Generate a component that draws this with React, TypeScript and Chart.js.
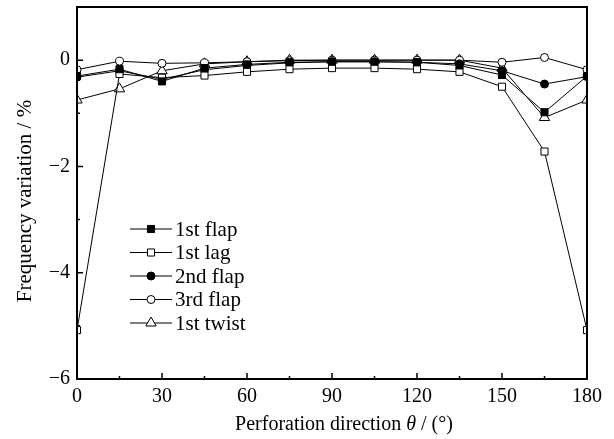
import React, { useEffect, useRef } from "react";
import { Chart, registerables } from "chart.js";

Chart.register(...registerables);

const angles = [0, 15, 30, 45, 60, 75, 90, 105, 120, 135, 150, 165, 180];
const flap1 = [-0.3, -0.17, -0.4, -0.15, -0.08, -0.04, -0.03, -0.03, -0.04, -0.1, -0.28, -0.98, -0.3];
const lag1 = [-5.08, -0.26, -0.33, -0.29, -0.22, -0.17, -0.15, -0.15, -0.17, -0.22, -0.5, -1.72, -5.08];
const flap2 = [-0.32, -0.2, -0.36, -0.18, -0.1, -0.05, -0.03, -0.03, -0.04, -0.07, -0.2, -0.45, -0.31];
const flap3 = [-0.18, -0.02, -0.06, -0.05, -0.03, -0.01, 0, 0, 0, 0, -0.04, 0.05, -0.18];
const twist1 = [-0.75, -0.54, -0.2, -0.07, -0.03, 0, 0, 0, 0, 0, -0.15, -1.08, -0.75];

const seriesNames = ["1st flap", "1st lag", "2nd flap", "3rd flap", "1st twist"];
const xTitle = ["Perforation direction ", "θ", " / (°)"];
const yTitle = "Frequency variation / %";

const FONT = '"Liberation Serif", "Times New Roman", serif';

const makeSet = (label: string, data: number[], style: string, filled: boolean, r: number) => ({
  label,
  data: angles.map((a, i) => ({ x: a, y: data[i] })),
  borderColor: "#000",
  borderWidth: 1,
  pointStyle: style,
  pointRadius: r,
  pointBorderWidth: 1,
  pointBackgroundColor: filled ? "#000" : "#fff",
  pointBorderColor: "#000",
  clip: 0,
  tension: 0,
});

function drawMarker(ctx: CanvasRenderingContext2D, style: string, r: number, x: number, y: number, fill: string) {
  ctx.save();
  ctx.fillStyle = fill;
  ctx.strokeStyle = "#000";
  ctx.lineWidth = 1;
  ctx.beginPath();
  if (style === "rect") {
    const s = Math.SQRT1_2 * r;
    ctx.rect(x - s, y - s, 2 * s, 2 * s);
  } else if (style === "triangle") {
    ctx.moveTo(x, y - r);
    ctx.lineTo(x + r * Math.sin(Math.PI / 3), y + r * 0.5);
    ctx.lineTo(x - r * Math.sin(Math.PI / 3), y + r * 0.5);
    ctx.closePath();
  } else {
    ctx.arc(x, y, r, 0, Math.PI * 2);
  }
  ctx.fill();
  ctx.stroke();
  ctx.restore();
}

const framePlugin = {
  id: "frame",
  afterDraw(chart: any) {
    const { ctx, chartArea: a, scales } = chart;
    const xs = scales.x;
    const ys = scales.y;
    ctx.save();
    ctx.strokeStyle = "#000";
    // inward ticks
    ctx.lineWidth = 1.5;
    ctx.beginPath();
    xs.ticks.forEach((t: any) => {
      const p = xs.getPixelForValue(t.value);
      const len = t.value % 30 === 0 ? 6 : 3;
      ctx.moveTo(p, a.bottom);
      ctx.lineTo(p, a.bottom - len);
    });
    ys.ticks.forEach((t: any) => {
      const p = ys.getPixelForValue(t.value);
      const len = t.value % 2 === 0 ? 6 : 3;
      ctx.moveTo(a.left, p);
      ctx.lineTo(a.left + len, p);
    });
    ctx.stroke();
    // box
    ctx.lineWidth = 2;
    ctx.strokeRect(a.left, a.top, a.right - a.left, a.bottom - a.top);

    // x title (mixed style)
    ctx.fillStyle = "#000";
    ctx.textBaseline = "middle";
    ctx.textAlign = "left";
    const normal = `20px ${FONT}`;
    const italic = `italic 20px ${FONT}`;
    const big = `21px ${FONT}`;
    ctx.font = normal;
    const w0 = ctx.measureText(xTitle[0]).width;
    const w2 = ctx.measureText(xTitle[2]).width;
    ctx.font = italic;
    const w1 = ctx.measureText(xTitle[1]).width;
    const total = w0 + w1 + w2;
    const cx = (a.left + a.right) / 2 + 12;
    let xx = cx - total / 2;
    const ty = 425;
    ctx.font = normal;
    ctx.fillText(xTitle[0], xx, ty);
    xx += w0;
    ctx.font = italic;
    ctx.fillText(xTitle[1], xx, ty);
    xx += w1;
    ctx.font = normal;
    ctx.fillText(xTitle[2], xx, ty);

    // y title
    ctx.save();
    ctx.translate(25, (a.top + a.bottom) / 2 + 8);
    ctx.rotate(-Math.PI / 2);
    ctx.textAlign = "center";
    ctx.font = big;
    ctx.fillText(yTitle, 0, 0);
    ctx.restore();

    // legend
    const lx0 = a.left + 53;
    const lx1 = a.left + 95;
    const ly0 = a.top + 222;
    const step = 23.5;
    chart.data.datasets.forEach((ds: any, i: number) => {
      const y = ly0 + i * step;
      ctx.strokeStyle = "#000";
      ctx.lineWidth = 1;
      ctx.beginPath();
      ctx.moveTo(lx0, y);
      ctx.lineTo(lx1, y);
      ctx.stroke();
      drawMarker(ctx, ds.pointStyle, ds.pointRadius, (lx0 + lx1) / 2, y, ds.pointBackgroundColor);
      ctx.fillStyle = "#000";
      ctx.font = big;
      ctx.textAlign = "left";
      ctx.textBaseline = "middle";
      ctx.fillText(ds.label, lx1 + 3, y + 1);
    });
    ctx.restore();
  },
};

export default function App() {
  const ref = useRef<HTMLCanvasElement>(null);
  useEffect(() => {
    document.body.style.margin = "0";
    const chart = new Chart(ref.current!, {
      type: "line",
      data: {
        datasets: [
          makeSet(seriesNames[0], flap1, "rect", true, 5),
          makeSet(seriesNames[1], lag1, "rect", false, 5),
          makeSet(seriesNames[2], flap2, "circle", true, 4),
          makeSet(seriesNames[3], flap3, "circle", false, 4),
          makeSet(seriesNames[4], twist1, "triangle", false, 6),
        ] as any,
      },
      options: {
        animation: false,
        responsive: false,
        layout: { padding: { left: 0, right: 27, top: 7, bottom: 0 } },
        plugins: { legend: { display: false }, tooltip: { enabled: false } },
        scales: {
          x: {
            type: "linear",
            min: 0,
            max: 180,
            grid: { display: false, drawTicks: false },
            border: { display: false },
            afterFit: (s: any) => {
              s.height = 60;
              s.paddingLeft = 0;
              s.paddingRight = 0;
            },
            ticks: {
              stepSize: 15,
              autoSkip: false,
              maxRotation: 0,
              padding: 6,
              color: "#000",
              font: { family: FONT, size: 20 },
              callback: (v: any) => (Number(v) % 30 === 0 ? String(v) : ""),
            },
          },
          y: {
            type: "linear",
            min: -6,
            max: 1,
            grid: { display: false, drawTicks: false },
            border: { display: false },
            afterFit: (s: any) => {
              s.width = 77;
              s.paddingTop = 0;
              s.paddingBottom = 0;
            },
            ticks: {
              stepSize: 1,
              autoSkip: false,
              padding: 7,
              color: "#000",
              font: { family: FONT, size: 20 },
              callback: (v: any) => {
                const n = Number(v);
                if (n % 2 !== 0) return "";
                return n === 0 ? "0" : (n < 0 ? "\u2212" : "") + Math.abs(n);
              },
            },
          },
        },
      },
      plugins: [framePlugin],
    });
    return () => chart.destroy();
  }, []);
  return (
    <div style={{ width: 614, height: 439, background: "#fff" }}>
      <canvas ref={ref} width={614} height={439} />
    </div>
  );
}
